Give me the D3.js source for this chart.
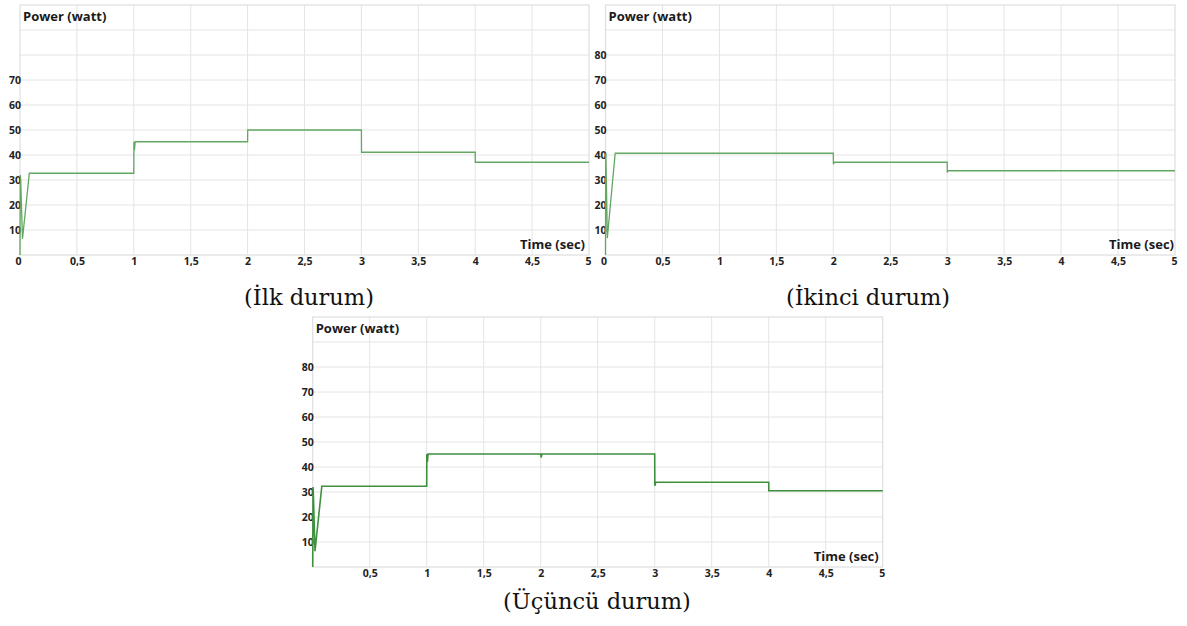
<!DOCTYPE html>
<html>
<head>
<meta charset="utf-8">
<script src="https://cdn.jsdelivr.net/npm/d3@7"></script>
<style>
  html, body { margin: 0; padding: 0; background: #ffffff; }
  svg { display: block; }
  .tick-label { font-family: "Open Sans", "Noto Sans", sans-serif; font-weight: 700; font-size: 10.5px; fill: #222; }
  .axis-title { font-family: "Open Sans", "Noto Sans", sans-serif; font-weight: 700; font-size: 13px; fill: #1a1a1a; }
  .caption { font-family: "DejaVu Serif", "Liberation Serif", serif; font-size: 22.5px; fill: #111; }
</style>
</head>
<body>
<svg id="fig" width="1187" height="626"></svg>
<script>
// Time axis ticks (seconds) and their labels with decimal comma
const timeTicks = [0, 0.5, 1, 1.5, 2, 2.5, 3, 3.5, 4, 4.5, 5];
const timeTickLabels = ["0", "0,5", "1", "1,5", "2", "2,5", "3", "3,5", "4", "4,5", "5"];
// Power grid lines (watt)
const powerGrid = [10, 20, 30, 40, 50, 60, 70, 80, 90];
// Power labels shown on each panel
const powerLabelsIlk = [10, 20, 30, 40, 50, 60, 70];
const powerLabelsIkinci = [10, 20, 30, 40, 50, 60, 70, 80];
const powerLabelsUcuncu = [10, 20, 30, 40, 50, 60, 70, 80];

// Case 1: output power over time
const timeIlk  = [0, 0.003, 0.006, 0.022, 0.082, 1.0, 1.001, 1.006, 1.012, 2.0, 2.001, 3.0, 3.001, 4.0, 4.001, 5.0];
const powerIlk = [0, 32.0, 30.0, 6.5, 32.7, 32.7, 45.3, 42.0, 45.3, 45.3, 50.0, 50.0, 41.1, 41.1, 37.1, 37.1];

// Case 2: output power over time
const timeIkinci  = [0, 0.002, 0.005, 0.016, 0.085, 2.0, 2.001, 2.008, 3.0, 3.001, 3.008, 5.0];
const powerIkinci = [0, 40.7, 37.0, 6.7, 40.7, 40.7, 36.3, 37.1, 37.1, 33.0, 33.7, 33.7];

// Case 3: output power over time
const timeUcuncu  = [0, 0.003, 0.006, 0.02, 0.08, 1.0, 1.001, 1.006, 1.012, 2.0, 2.004, 2.01, 3.0, 3.001, 3.01, 4.0, 4.001, 5.0];
const powerUcuncu = [0, 32.0, 29.0, 6.3, 32.3, 32.3, 45.2, 42.0, 45.2, 45.2, 43.8, 45.2, 45.2, 32.5, 33.9, 33.9, 30.5, 30.5];

const captions = ["(İlk durum)", "(İkinci durum)", "(Üçüncü durum)"];

const svg = d3.select("#fig");

const panels = [
  { t: timeIlk, p: powerIlk, labels: powerLabelsIlk, zeroLabel: true,
    left: 20, top: 5, width: 569, height: 250, color: "#62a862", stroke: 1.3,
    caption: captions[0], capX: 309, capY: 305, timeTitleDx: -4 },
  { t: timeIkinci, p: powerIkinci, labels: powerLabelsIkinci, zeroLabel: true,
    left: 605.5, top: 5, width: 569.5, height: 250, color: "#62a862", stroke: 1.3,
    caption: captions[1], capX: 868, capY: 305, timeTitleDx: -1 },
  { t: timeUcuncu, p: powerUcuncu, labels: powerLabelsUcuncu, zeroLabel: false,
    left: 312.7, top: 317, width: 570, height: 250, color: "#3f8f3f", stroke: 1.6,
    caption: captions[2], capX: 597, capY: 609, timeTitleDx: -4 }
];

panels.forEach(cfg => {
  const x = d3.scaleLinear().domain([0, 5]).range([cfg.left, cfg.left + cfg.width]);
  const y = d3.scaleLinear().domain([0, 100]).range([cfg.top + cfg.height, cfg.top]);
  const g = svg.append("g");

  // Vertical grid lines at each time tick
  g.append("g").selectAll("line").data(timeTicks.filter(v => v > 0 && v < 5)).join("line")
    .attr("x1", d => x(d)).attr("x2", d => x(d))
    .attr("y1", y(0)).attr("y2", y(100))
    .attr("stroke", "#e4e4e4").attr("stroke-width", 1);

  // Horizontal grid lines
  g.append("g").selectAll("line").data(powerGrid).join("line")
    .attr("x1", x(0)).attr("x2", x(5))
    .attr("y1", d => y(d)).attr("y2", d => y(d))
    .attr("stroke", "#e4e4e4").attr("stroke-width", 1);

  // Plot frame
  g.append("rect")
    .attr("x", x(0)).attr("y", y(100))
    .attr("width", x(5) - x(0)).attr("height", y(0) - y(100))
    .attr("fill", "none").attr("stroke", "#dedede").attr("stroke-width", 1.2);

  // Power (y) axis labels
  const yAxis = d3.axisLeft(y).tickValues(cfg.labels).tickSize(0).tickPadding(0).tickFormat(d3.format("d"));
  const ya = g.append("g").attr("transform", `translate(${x(0) + 1},0)`).call(yAxis);
  ya.select(".domain").remove();
  ya.selectAll("text").attr("class", "tick-label").attr("font-family", null).attr("font-size", null).attr("fill", null);

  // Time (x) axis labels
  const xVals = cfg.zeroLabel ? timeTicks : timeTicks.slice(1);
  const xAxis = d3.axisBottom(x).tickValues(xVals).tickSize(0).tickPadding(0)
    .tickFormat(d => timeTickLabels[timeTicks.indexOf(d)]);
  const xa = g.append("g").attr("transform", `translate(0,${y(0) + 3})`).call(xAxis);
  xa.select(".domain").remove();
  xa.selectAll("text").attr("class", "tick-label").attr("font-family", null).attr("font-size", null).attr("fill", null)
    .attr("text-anchor", d => d === 0 ? "end" : "middle")
    .attr("dx", d => d === 0 ? 1 : (d === 5 ? -1 : 0));

  // Axis titles
  g.append("text").attr("class", "axis-title")
    .attr("x", x(0) + 3).attr("y", y(100) + 16)
    .text("Power (watt)");
  g.append("text").attr("class", "axis-title")
    .attr("x", x(5) + cfg.timeTitleDx).attr("y", y(0) - 6)
    .attr("text-anchor", "end")
    .text("Time (sec)");

  // Power trace
  const data = cfg.t.map((tv, i) => [tv, cfg.p[i]]);
  g.append("path").datum(data)
    .attr("fill", "none").attr("stroke", cfg.color).attr("stroke-width", cfg.stroke)
    .attr("stroke-linejoin", "miter")
    .attr("d", d3.line().x(d => x(d[0])).y(d => y(d[1])));

  // Caption below the panel
  svg.append("text").attr("class", "caption")
    .attr("x", cfg.capX).attr("y", cfg.capY)
    .attr("text-anchor", "middle")
    .text(cfg.caption);
});
</script>
</body>
</html>
